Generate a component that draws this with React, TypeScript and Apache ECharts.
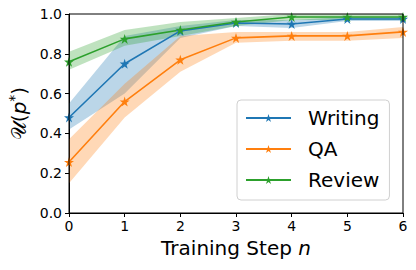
import React, { useEffect, useRef } from "react";
import * as echarts from "echarts";

const steps = ["0", "1", "2", "3", "4", "5", "6"];

const writingMean = [0.48, 0.75, 0.915, 0.955, 0.95, 0.975, 0.975];
const writingLow = [0.42, 0.6, 0.88, 0.94, 0.93, 0.965, 0.965];
const writingHigh = [0.55, 0.89, 0.94, 0.97, 0.97, 0.985, 0.985];

const qaMean = [0.256, 0.56, 0.77, 0.88, 0.89, 0.89, 0.91];
const qaLow = [0.15, 0.48, 0.71, 0.855, 0.865, 0.865, 0.88];
const qaHigh = [0.37, 0.65, 0.89, 0.91, 0.91, 0.91, 0.935];

const reviewMean = [0.76, 0.875, 0.92, 0.96, 0.985, 0.985, 0.985];
const reviewLow = [0.72, 0.84, 0.89, 0.94, 0.97, 0.97, 0.97];
const reviewHigh = [0.81, 0.92, 0.96, 0.98, 1.0, 1.0, 1.0];

const STAR =
  "path://M50,0 L61.8,35.4 L100,35.4 L69.1,57.3 L80.9,92.7 L50,70.8 L19.1,92.7 L30.9,57.3 L0,35.4 L38.2,35.4 Z";

const FONT = "DejaVu Sans";

function bandSeries(name: string, low: number[], high: number[], color: string) {
  return [
    {
      type: "line",
      name: name + "_low",
      stack: name,
      data: low,
      lineStyle: { opacity: 0 },
      symbol: "none",
      silent: true,
      z: 1,
    },
    {
      type: "line",
      name: name + "_band",
      stack: name,
      data: high.map((h, i) => +(h - low[i]).toFixed(4)),
      lineStyle: { opacity: 0 },
      areaStyle: { color, opacity: 0.3 },
      symbol: "none",
      silent: true,
      z: 1,
    },
  ];
}

function meanSeries(name: string, mean: number[], color: string) {
  return {
    type: "line",
    name,
    data: mean,
    lineStyle: { color, width: 1.6 },
    itemStyle: { color },
    symbol: STAR,
    symbolSize: 10,
    z: 3,
  };
}

export default function App() {
  const ref = useRef<HTMLDivElement>(null);
  useEffect(() => {
    const chart = echarts.init(ref.current!, undefined, { renderer: "svg" });
    chart.setOption({
      animation: false,
      grid: { left: 69, right: 13, top: 14, bottom: 57, containLabel: false, outerBoundsMode: "none" },
      xAxis: {
        type: "category",
        data: steps,
        boundaryGap: false,
        name: "{t|Training Step }{n|n}",
        nameLocation: "middle",
        nameGap: 23,
        nameTextStyle: {
          rich: {
            t: { fontFamily: FONT, fontSize: 20, color: "#000" },
            n: { fontFamily: FONT, fontSize: 20, fontStyle: "italic", color: "#000" },
          },
        },
        axisLine: { onZero: false, lineStyle: { color: "#000", width: 1 } },
        axisTick: { show: true, length: 4, lineStyle: { color: "#000" } },
        axisLabel: { fontFamily: FONT, fontSize: 14, color: "#000", margin: 6 },
        splitLine: { show: false },
      },
      yAxis: {
        type: "value",
        min: 0,
        max: 1,
        interval: 0.2,
        name: "{u|𝒰}{t|(}{p|p}{s|*}{t|)}",
        nameLocation: "middle",
        nameGap: 38,
        nameRotate: 90,
        nameTextStyle: {
          rich: {
            u: { fontFamily: FONT, fontSize: 20, color: "#000" },
            t: { fontFamily: FONT, fontSize: 20, color: "#000" },
            p: { fontFamily: FONT, fontSize: 20, fontStyle: "italic", color: "#000" },
            s: { fontFamily: FONT, fontSize: 14, color: "#000", verticalAlign: "top", padding: [0, 0, 10, 0] },
          },
        },
        axisLine: { show: true, lineStyle: { color: "#000", width: 1 } },
        axisTick: { show: true, length: 4, lineStyle: { color: "#000" } },
        axisLabel: {
          fontFamily: FONT,
          fontSize: 14,
          color: "#000",
          margin: 7,
          formatter: (v: number) => v.toFixed(1),
        },
        splitLine: { show: false },
      },
      legend: {
        data: ["Writing", "QA", "Review"],
        orient: "vertical",
        left: 237,
        top: 100,
        itemWidth: 45,
        itemHeight: 10,
        itemGap: 11,
        padding: [8, 10, 10, 8],
        backgroundColor: "rgba(255,255,255,0.8)",
        borderColor: "#d0d0d0",
        borderWidth: 1,
        borderRadius: 4,
        textStyle: { fontFamily: FONT, fontSize: 20, color: "#000", padding: [0, 0, 0, 12] },
      },
      graphic: [
        {
          type: "rect",
          shape: { x: 69, y: 14, width: 334, height: 199 },
          style: { fill: "none", stroke: "#000", lineWidth: 1 },
          silent: true,
          z: 10,
        },
      ],
      series: [
        ...bandSeries("w", writingLow, writingHigh, "#1f77b4"),
        ...bandSeries("q", qaLow, qaHigh, "#ff7f0e"),
        ...bandSeries("r", reviewLow, reviewHigh, "#2ca02c"),
        meanSeries("Writing", writingMean, "#1f77b4"),
        meanSeries("QA", qaMean, "#ff7f0e"),
        meanSeries("Review", reviewMean, "#2ca02c"),
      ],
    });
    return () => chart.dispose();
  }, []);
  return <div ref={ref} style={{ width: 416, height: 270, position: "absolute", left: 0, top: 0 }} />;
}
